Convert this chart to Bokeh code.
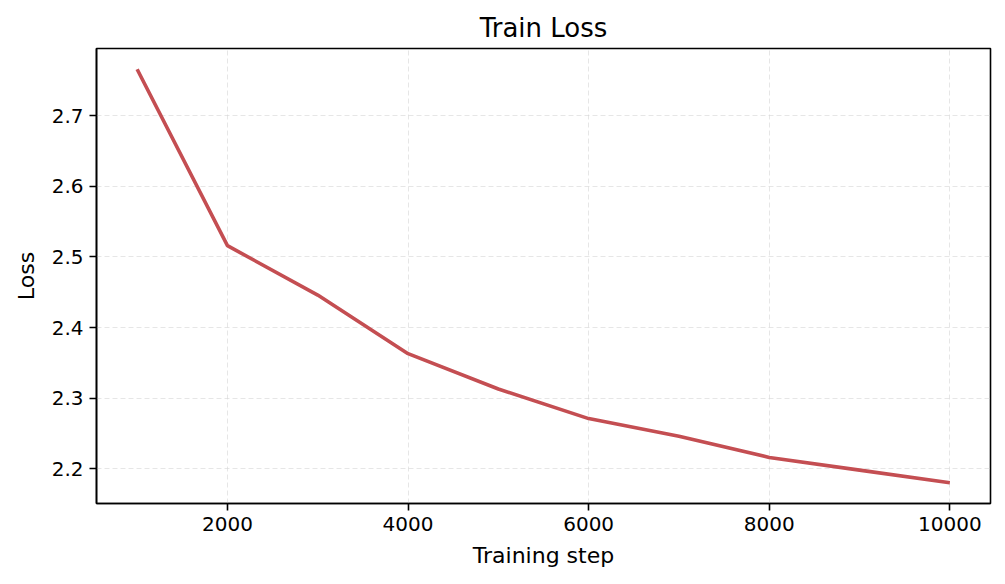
from bokeh.plotting import figure
from bokeh.models import FixedTicker, Range1d
from bokeh.embed import file_html
from bokeh.resources import INLINE

steps = [1000, 2000, 3000, 4000, 5000, 6000, 7000, 8000, 9000, 10000]
loss = [2.766, 2.516, 2.446, 2.363, 2.313, 2.271, 2.246, 2.216, 2.198, 2.180]

x_ticks = [2000, 4000, 6000, 8000, 10000]
y_ticks = [2.2, 2.3, 2.4, 2.5, 2.6, 2.7]

FONT = "DejaVu Sans"

p = figure(width=997, height=576, output_backend="svg", toolbar_location=None,
           x_range=Range1d(550, 10450), y_range=Range1d(2.1507, 2.7954),
           title="Train Loss",
           min_border_left=96, min_border_right=7,
           min_border_top=48, min_border_bottom=73)

p.line(steps, loss, line_color="#c44e52", line_width=3.6)

p.title.align = "center"
p.title.text_font = FONT
p.title.text_font_size = "26px"
p.title.text_font_style = "normal"
p.title.text_color = "black"
p.title.offset = 0
p.title.standoff = 12

p.outline_line_color = "black"
p.outline_line_width = 1.6
p.outline_line_alpha = 1

p.xaxis.ticker = FixedTicker(ticks=x_ticks)
p.yaxis.ticker = FixedTicker(ticks=y_ticks)
p.xaxis.axis_label = "Training step"
p.yaxis.axis_label = "Loss"

for ax in (p.xaxis, p.yaxis):
    ax.axis_line_color = "black"
    ax.axis_line_width = 1.6
    ax.major_tick_line_color = "black"
    ax.major_tick_line_width = 1.6
    ax.major_tick_out = 7
    ax.major_tick_in = 0
    ax.minor_tick_line_color = None
    ax.major_label_text_font = FONT
    ax.major_label_text_font_size = "20px"
    ax.major_label_text_color = "black"
    ax.axis_label_text_font = FONT
    ax.axis_label_text_font_size = "22px"
    ax.axis_label_text_font_style = "normal"
    ax.axis_label_text_color = "black"

p.xaxis.axis_label_standoff = 9
p.yaxis.axis_label_standoff = 10
p.xaxis.major_label_standoff = 6
p.yaxis.major_label_standoff = 6

p.grid.grid_line_color = "#d6d6d6"
p.grid.grid_line_alpha = 0.6
p.grid.grid_line_dash = "5 3"
p.grid.grid_line_width = 1

open("out.html", "w").write(file_html(p, INLINE))
